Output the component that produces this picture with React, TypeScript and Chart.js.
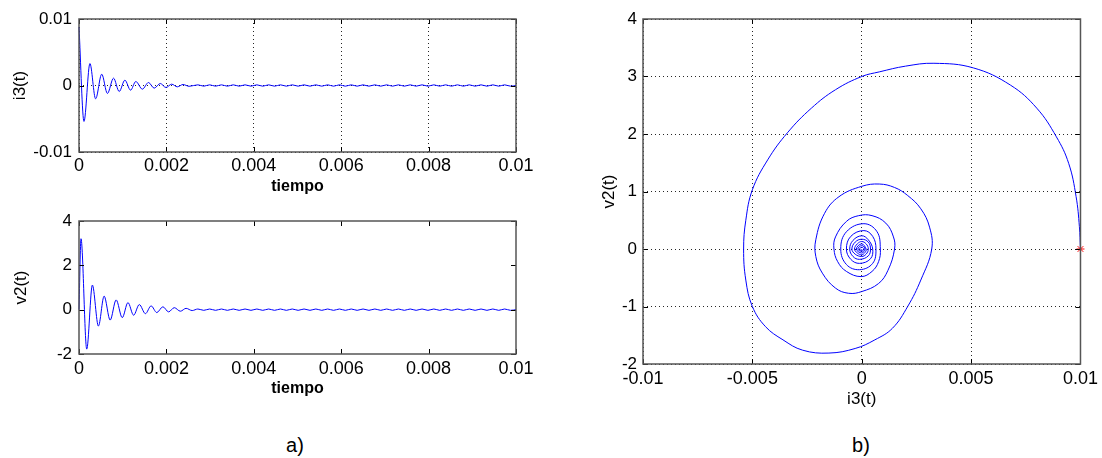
import React, { useEffect, useRef } from 'react';
import { Chart, registerables } from 'chart.js';
Chart.register(...registerables);

// ---------------- DATA ----------------
// i3(t) versus tiempo: extrema
const tiempoI3 = [0, 0.000114, 0.00025, 0.00038, 0.00052, 0.00065, 0.00079, 0.00092, 0.00105, 0.00118,
  0.0013, 0.00145, 0.00159, 0.00172, 0.00186, 0.00199, 0.00212, 0.00225, 0.00238, 0.00252];
const i3Valores = [0.0088, -0.0054, 0.0033, -0.0020, 0.0017, -0.0012, 0.0011, -0.0009, 0.0008, -0.0007,
  0.0006, -0.00055, 0.00045, -0.0004, 0.0003, -0.0003, 0.0002, -0.0002, 0.00015, -0.00012];

// v2(t) versus tiempo: extrema
const tiempoV2 = [0, 0.000046, 0.000177, 0.000306, 0.000444, 0.000575, 0.000713, 0.00085, 0.00099, 0.00112,
  0.00125, 0.00138, 0.00152, 0.00165, 0.00178, 0.00192, 0.00205, 0.00218, 0.00232, 0.00245, 0.00259];
const v2Valores = [0, 3.2, -1.78, 1.11, -0.74, 0.61, -0.47, 0.44, -0.36, 0.32,
  -0.25, 0.23, -0.18, 0.17, -0.13, 0.13, -0.10, 0.09, -0.07, 0.06, -0.04];

// small steady ripple after the transient
const tiempoCola = [0.00272, 0.002855, 0.00299, 0.003125, 0.00326, 0.003395, 0.00353, 0.003665, 0.0038, 0.003935,
  0.00407, 0.004205, 0.00434, 0.004475, 0.00461, 0.004745, 0.00488, 0.005015, 0.00515, 0.005285,
  0.00542, 0.005555, 0.00569, 0.005825, 0.00596, 0.006095, 0.00623, 0.006365, 0.0065, 0.006635,
  0.00677, 0.006905, 0.00704, 0.007175, 0.00731, 0.007445, 0.00758, 0.007715, 0.00785, 0.007985,
  0.00812, 0.008255, 0.00839, 0.008525, 0.00866, 0.008795, 0.00893, 0.009065, 0.0092, 0.009335,
  0.00947, 0.009605, 0.00974, 0.009875, 0.01];
const i3Cola = [0.0001, -0.0001, 0.0001, -0.0001, 0.0001, -0.0001, 0.0001, -0.0001, 0.0001, -0.0001,
  0.0001, -0.0001, 0.0001, -0.0001, 0.0001, -0.0001, 0.0001, -0.0001, 0.0001, -0.0001,
  0.0001, -0.0001, 0.0001, -0.0001, 0.0001, -0.0001, 0.0001, -0.0001, 0.0001, -0.0001,
  0.0001, -0.0001, 0.0001, -0.0001, 0.0001, -0.0001, 0.0001, -0.0001, 0.0001, -0.0001,
  0.0001, -0.0001, 0.0001, -0.0001, 0.0001, -0.0001, 0.0001, -0.0001, 0.0001, -0.0001,
  0.0001, -0.0001, 0.0001, -0.0001, 0.0];
const v2Cola = [0.03, -0.03, 0.03, -0.03, 0.03, -0.03, 0.03, -0.03, 0.03, -0.03,
  0.03, -0.03, 0.03, -0.03, 0.03, -0.03, 0.03, -0.03, 0.03, -0.03,
  0.03, -0.03, 0.03, -0.03, 0.03, -0.03, 0.03, -0.03, 0.03, -0.03,
  0.03, -0.03, 0.03, -0.03, 0.03, -0.03, 0.03, -0.03, 0.03, -0.03,
  0.03, -0.03, 0.03, -0.03, 0.03, -0.03, 0.03, -0.03, 0.03, -0.03,
  0.03, -0.03, 0.03, -0.03, 0.0];

// phase plot v2 versus i3 (points read along the spiral)
const faseI3 = [
  0.0100, 0.00995, 0.0098, 0.00946, 0.0089, 0.0080, 0.0068, 0.0051, 0.0033, 0.0020,
  0.0008, 0.0000, -0.0012, -0.0023, -0.0034, -0.0043, -0.0050, -0.0053, -0.0054, -0.0053,
  -0.0050, -0.0044, -0.0036, -0.0027, -0.0015, -0.0003, 0.0006, 0.0014, 0.0021, 0.0027,
  0.0032, 0.0031, 0.0027, 0.0021, 0.0015, 0.0008, 0.0000, -0.00104, -0.0017, -0.0021,
  -0.0021, -0.0018, -0.0012, -0.0006, 0.0000, 0.00077, 0.0012, 0.0015, 0.00145, 0.0011,
  0.00047, -0.00014, -0.0007, -0.0012, -0.00127, -0.0011, -0.0007, -0.00003, 0.00047, 0.00077,
  0.00085, 0.0007, 0.0001, -0.0007, -0.00096, -0.0007, -0.0001, 0.0005, 0.00065, 0.0005,
  0.0001, -0.0005, -0.0007, -0.0005, -0.0001, 0.0004, 0.0005, 0.0003, 0.0000, -0.0004,
  -0.00055, -0.0004, -0.0001, 0.0003, 0.0004, 0.0003, 0.0000, -0.0003, -0.00045, -0.0003,
  0.0000, 0.0002, 0.0003, 0.0002, 0.0000, -0.0002, -0.00033, -0.0002, 0.0000, 0.00015,
  0.0002, 0.0000, -0.00025, 0.0000, 0.00015, 0.0000, -0.00018, 0.0000, 0.0001, 0.0000,
  -0.0001, 0.0000, 0.0000];
const faseV2 = [
  0.00, 0.39, 0.91, 1.49, 1.95, 2.45, 2.85, 3.15, 3.23, 3.18,
  3.08, 3.00, 2.77, 2.45, 2.02, 1.55, 1.03, 0.50, 0.00, -0.54,
  -1.00, -1.35, -1.58, -1.76, -1.81, -1.73, -1.58, -1.38, -1.00, -0.54,
  0.00, 0.38, 0.70, 0.93, 1.07, 1.13, 1.09, 0.91, 0.62, 0.16,
  -0.13, -0.42, -0.68, -0.77, -0.74, -0.60, -0.37, 0.00, 0.21, 0.45,
  0.58, 0.58, 0.48, 0.21, 0.00, -0.22, -0.39, -0.48, -0.39, -0.22,
  0.00, 0.30, 0.44, 0.30, 0.00, -0.27, -0.36, -0.25, 0.00, 0.22,
  0.32, 0.22, 0.00, -0.18, -0.25, -0.17, 0.00, 0.16, 0.23, 0.15,
  0.00, -0.13, -0.18, -0.12, 0.00, 0.12, 0.17, 0.12, 0.00, -0.09,
  -0.13, -0.09, 0.00, 0.09, 0.13, 0.09, 0.00, -0.07, -0.10, -0.06,
  0.00, 0.09, 0.00, -0.07, 0.00, 0.06, 0.00, -0.04, 0.00, 0.03,
  0.00, -0.03, 0.00];
const puntoInicialI3 = [0.01];
const puntoInicialV2 = [0];

// tick values and labels
const ticksTiempo = [0, 0.002, 0.004, 0.006, 0.008, 0.01];
const etiquetasTiempo = ['0', '0.002', '0.004', '0.006', '0.008', '0.01'];
const ticksI3 = [-0.01, 0, 0.01];
const etiquetasI3 = ['-0.01', '0', '0.01'];
const ticksV2 = [-2, 0, 2, 4];
const etiquetasV2 = ['-2', '0', '2', '4'];
const ticksFaseX = [-0.01, -0.005, 0, 0.005, 0.01];
const etiquetasFaseX = ['-0.01', '-0.005', '0', '0.005', '0.01'];
const ticksFaseY = [-2, -1, 0, 1, 2, 3, 4];
const etiquetasFaseY = ['-2', '-1', '0', '1', '2', '3', '4'];

// ---------------- STYLE / HELPERS ----------------
const FUENTE = '"Liberation Sans", Arial, Helvetica, sans-serif';
Chart.defaults.font.family = FUENTE;
const AZUL = '#0000ff';

const zip = (xs: number[], ys: number[]) => xs.map((x, i) => ({ x, y: ys[i] }));

const marcoPlugin = {
  id: 'marco',
  afterDatasetsDraw(chart: any) {
    const { ctx, chartArea: a, scales } = chart;
    const L = 5;
    ctx.save();
    ctx.strokeStyle = '#000';
    ctx.lineWidth = 1;
    ctx.setLineDash([]);
    ctx.beginPath();
    const xs = scales.x;
    const ys = scales.y;
    xs.ticks.forEach((t: any) => {
      const p = Math.round(xs.getPixelForValue(t.value)) + 0.5;
      ctx.moveTo(p, a.bottom); ctx.lineTo(p, a.bottom - L);
      ctx.moveTo(p, a.top); ctx.lineTo(p, a.top + L);
    });
    ys.ticks.forEach((t: any) => {
      const p = Math.round(ys.getPixelForValue(t.value)) + 0.5;
      ctx.moveTo(a.left, p); ctx.lineTo(a.left + L, p);
      ctx.moveTo(a.right, p); ctx.lineTo(a.right - L, p);
    });
    ctx.stroke();
    ctx.strokeStyle = '#555';
    ctx.lineWidth = 1.5;
    ctx.strokeRect(a.left, a.top, a.right - a.left, a.bottom - a.top);
    ctx.restore();
  },
};

function escala(opts: {
  min: number; max: number; valores: number[]; etiquetas: string[];
  grid: boolean; size: number; padding: number; fontSize: number; bold?: boolean;
  titulo: string; tituloSize: number; tituloBold?: boolean; tituloPad: any;
}) {
  return {
    type: 'linear',
    min: opts.min,
    max: opts.max,
    afterBuildTicks: (scale: any) => { scale.ticks = opts.valores.map((v) => ({ value: v })); },
    afterFit: (scale: any) => {
      if (scale.isHorizontal()) scale.height = opts.size; else scale.width = opts.size;
    },
    ticks: {
      callback: (_v: any, i: number) => opts.etiquetas[i],
      color: '#000',
      autoSkip: false,
      maxRotation: 0,
      padding: opts.padding,
      font: { size: opts.fontSize, weight: opts.bold ? 'bold' : 'normal', family: FUENTE },
    },
    grid: { display: opts.grid, drawTicks: false, color: 'rgba(0,0,0,0.85)', lineWidth: 1 },
    border: { display: false, dash: [1, 3] },
    title: {
      display: true,
      text: opts.titulo,
      color: '#000',
      padding: opts.tituloPad,
      font: { size: opts.tituloSize, weight: opts.tituloBold ? 'bold' : 'normal', family: FUENTE },
    },
  };
}

function lineaSerie(data: any[], monotone: boolean) {
  return {
    data,
    showLine: true,
    borderColor: AZUL,
    backgroundColor: AZUL,
    borderWidth: 1,
    pointRadius: 0,
    tension: monotone ? 0 : 0.4,
    cubicInterpolationMode: monotone ? 'monotone' : 'default',
    clip: false,
  };
}

function baseOpts(padding: any, scales: any) {
  return {
    responsive: true,
    maintainAspectRatio: false,
    animation: false,
    events: [],
    layout: { padding },
    plugins: { legend: { display: false }, tooltip: { enabled: false } },
    scales,
  };
}

function configI3(): any {
  return {
    type: 'scatter',
    data: {
      datasets: [lineaSerie([...zip(tiempoI3, i3Valores), ...zip(tiempoCola, i3Cola)], true)],
    },
    options: baseOpts({ left: 0, top: 19, right: 24, bottom: 0 }, {
      x: escala({ min: 0, max: 0.01, valores: ticksTiempo, etiquetas: etiquetasTiempo, grid: true, size: 48,
        padding: 3, fontSize: 18, titulo: 'tiempo', tituloSize: 16, tituloBold: true, tituloPad: { top: 0, bottom: 4 } }),
      y: escala({ min: -0.01, max: 0.01, valores: ticksI3, etiquetas: etiquetasI3, grid: true, size: 79,
        padding: 7, fontSize: 17, titulo: 'i3(t)', tituloSize: 17, tituloPad: { top: 10, bottom: 0 } }),
    }),
    plugins: [marcoPlugin],
  };
}

function configV2(): any {
  return {
    type: 'scatter',
    data: {
      datasets: [lineaSerie([...zip(tiempoV2, v2Valores), ...zip(tiempoCola, v2Cola)], true)],
    },
    options: baseOpts({ left: 0, top: 21, right: 24, bottom: 0 }, {
      x: escala({ min: 0, max: 0.01, valores: ticksTiempo, etiquetas: etiquetasTiempo, grid: false, size: 66,
        padding: 4, fontSize: 18, titulo: 'tiempo', tituloSize: 16, tituloBold: true, tituloPad: { top: 0, bottom: 22 } }),
      y: escala({ min: -2, max: 4, valores: ticksV2, etiquetas: etiquetasV2, grid: false, size: 79,
        padding: 7, fontSize: 17, titulo: 'v2(t)', tituloSize: 17, tituloPad: { top: 11, bottom: 0 } }),
    }),
    plugins: [marcoPlugin],
  };
}

function configFase(): any {
  return {
    type: 'scatter',
    data: {
      datasets: [
        lineaSerie(zip(faseI3, faseV2), false),
        {
          data: zip(puntoInicialI3, puntoInicialV2),
          showLine: false,
          pointStyle: 'star',
          pointRadius: 4,
          borderColor: '#ff0000',
          backgroundColor: '#ff0000',
          borderWidth: 1,
          clip: false,
        },
      ],
    },
    options: baseOpts({ left: 0, top: 19, right: 18, bottom: 0 }, {
      x: escala({ min: -0.01, max: 0.01, valores: ticksFaseX, etiquetas: etiquetasFaseX, grid: true, size: 66,
        padding: 4, fontSize: 18, titulo: 'i3(t)', tituloSize: 17, tituloPad: { top: 0, bottom: 20 } }),
      y: escala({ min: -2, max: 4, valores: ticksFaseY, etiquetas: etiquetasFaseY, grid: true, size: 83,
        padding: 6, fontSize: 17, titulo: 'v2(t)', tituloSize: 17, tituloPad: { top: 39, bottom: 0 } }),
    }),
    plugins: [marcoPlugin],
  };
}

function Grafico(props: { left: number; top: number; width: number; height: number; crear: () => any }) {
  const ref = useRef<HTMLCanvasElement>(null);
  useEffect(() => {
    const chart = new Chart(ref.current as HTMLCanvasElement, props.crear());
    return () => chart.destroy();
  }, []);
  return (
    <div style={{ position: 'absolute', left: props.left, top: props.top, width: props.width, height: props.height }}>
      <canvas ref={ref} />
    </div>
  );
}

const etiquetaStyle: React.CSSProperties = {
  position: 'absolute',
  fontFamily: FUENTE,
  fontSize: 20,
  color: '#000',
  lineHeight: '24px',
  width: 40,
  textAlign: 'center',
};

export default function App() {
  return (
    <div style={{ position: 'fixed', left: 0, top: 0, width: 1102, height: 458, background: '#fff', overflow: 'hidden' }}>
      <Grafico left={0} top={0} width={540} height={200} crear={configI3} />
      <Grafico left={0} top={200} width={540} height={220} crear={configV2} />
      <Grafico left={560} top={0} width={542} height={430} crear={configFase} />
      <div style={{ ...etiquetaStyle, left: 275, top: 433 }}>a)</div>
      <div style={{ ...etiquetaStyle, left: 841, top: 433 }}>b)</div>
    </div>
  );
}
